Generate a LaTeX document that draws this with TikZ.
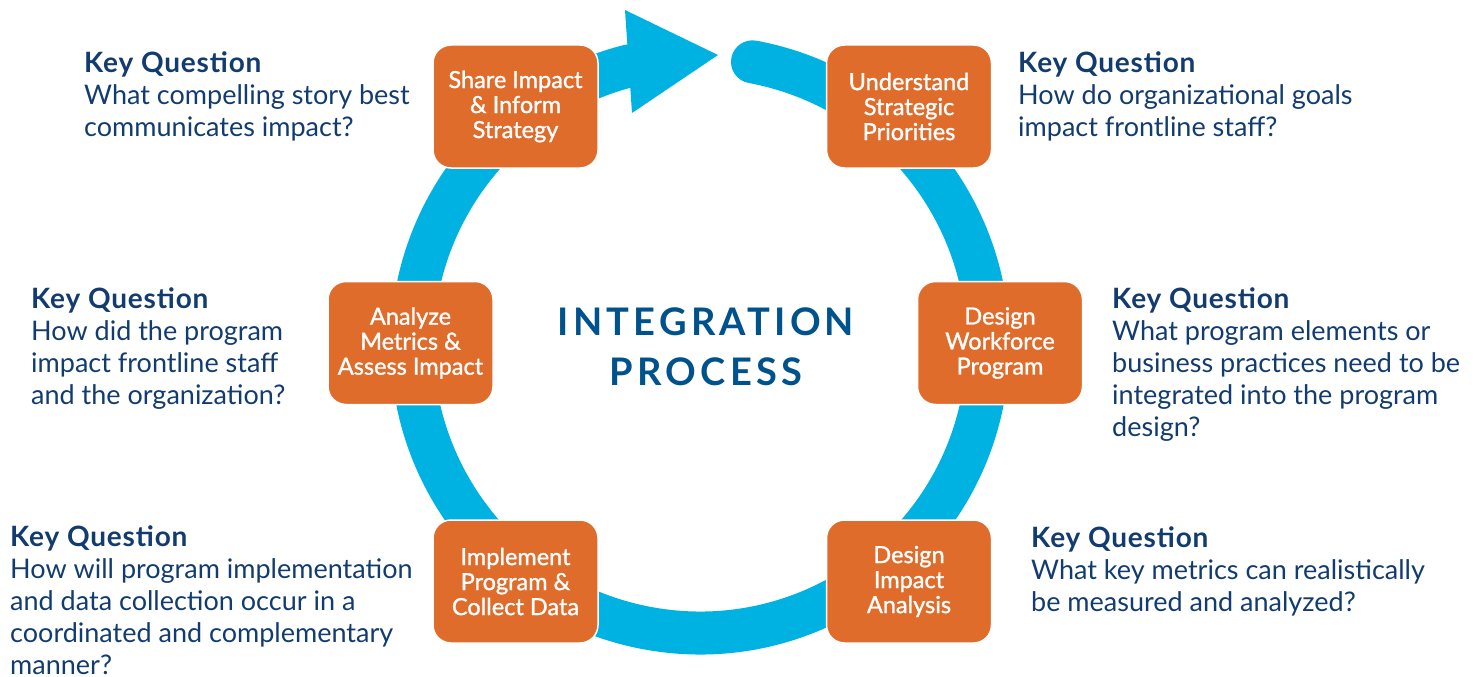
\documentclass[tikz,border=0pt]{standalone}
\usepackage{fontspec}
\setmainfont{Lato}
\definecolor{ringblue}{RGB}{0,178,226}
\definecolor{boxorange}{RGB}{224,108,44}
\definecolor{navy}{RGB}{18,60,112}
\definecolor{titleblue}{RGB}{0,82,140}
\newcommand{\kq}{{\fontsize{28}{32}\selectfont\bfseries\addfontfeatures{LetterSpace=3}Key Question}}
\begin{document}
\begin{tikzpicture}[x=1pt,y=1pt,
  stepbox/.style={rectangle, rounded corners=18pt, fill=boxorange, draw=white, line width=1.5pt,
    minimum width=165pt, minimum height=123pt, text=white, align=center,
    font=\fontsize{23.5}{25}\selectfont\addfontfeatures{FakeBold=1.2}, inner sep=0pt},
  question/.style={anchor=north west, align=left, text=navy, inner sep=0pt,
    font=\fontsize{27}{32}\selectfont},
  ringline/.style={draw=ringblue, line width=43pt},
  titletext/.style={text=titleblue, inner sep=0pt, anchor=base,
    font=\fontsize{38}{44}\selectfont\bfseries\addfontfeatures{LetterSpace=11}}
]
\useasboundingbox (0,0) rectangle (1484,-677);
\coordinate (c) at (700,-345);
% ring with arrow
\draw[ringline, line cap=round] ([shift={(79.5:288)}]c) arc[start angle=79.5, end angle=-255.8, radius=288pt];
\coordinate (hb1) at (625,-10);
\coordinate (hb2) at (632,-113);
\coordinate (tip) at (718,-55);
\fill[ringblue] (hb1) -- (hb2) -- (tip) -- cycle;

% boxes
\node[stepbox] (share) at (515.5,-106.5) {Share Impact\\\& Inform\\Strategy};
\node[stepbox] (under) at (909,-106.5) {Understand\\Strategic\\Priorities};
\node[stepbox] (analyze) at (410.5,-343) {Analyze\\Metrics \&\\Assess Impact};
\node[stepbox] (workforce) at (1000,-343) {Design\\Workforce\\Program};
\node[stepbox] (implement) at (515.5,-581.5) {Implement\\Program \&\\Collect Data};
\node[stepbox] (impact) at (909,-581.5) {Design\\Impact\\Analysis};

% title
\node[titletext] (t1) at (706,-335) {INTEGRATION};
\node[titletext] (t2) at (706,-385) {PROCESS};

% questions
\node[question] (q1) at (84,-51) {\kq\\What compelling story best\\communicates impact?};
\node[question] (q2) at (1018,-51) {\kq\\How do organizational goals\\impact frontline staff?};
\node[question] (q3) at (31,-287) {\kq\\How did the program\\impact frontline staff\\and the organization?};
\node[question] (q4) at (1112,-287) {\kq\\What program elements or\\business practices need to be\\integrated into the program\\design?};
\node[question] (q5) at (10,-525) {\kq\\How will program implementation\\and data collection occur in a\\coordinated and complementary\\manner?};
\node[question] (q6) at (1031,-526) {\kq\\What key metrics can realistically\\be measured and analyzed?};
\end{tikzpicture}
\end{document}
